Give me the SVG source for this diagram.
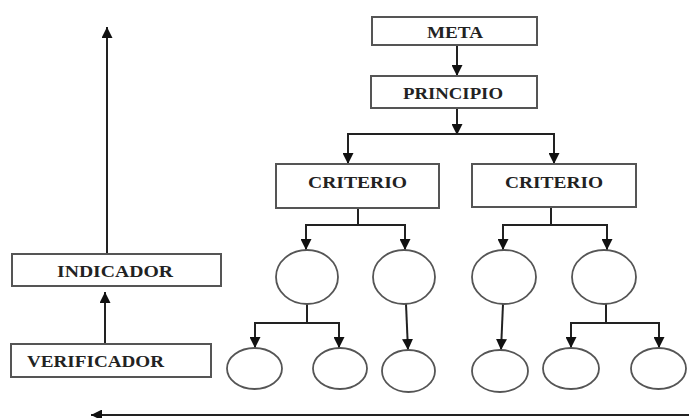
<svg xmlns="http://www.w3.org/2000/svg" width="689" height="418" viewBox="0 0 689 418">
<defs>
<marker id="ah" markerUnits="userSpaceOnUse" markerWidth="11" markerHeight="11" refX="11" refY="5.5" orient="auto">
<path d="M0,0 L11,5.5 L0,11 z" fill="#111"/>
</marker>
<style>
.box{fill:#fff;stroke:#555;stroke-width:2}
.oval{fill:#fff;stroke:#555;stroke-width:1.8}
.t{font-family:"Liberation Serif","Times New Roman",serif;font-weight:bold;font-size:16px;fill:#222}
.c{fill:none;stroke:#222;stroke-width:2}
.a{fill:none;stroke:#222;stroke-width:2;marker-end:url(#ah)}
</style>
</defs>
<rect width="689" height="418" fill="#fff"/>
<g id="connectors">
<line class="a" x1="457" y1="45" x2="457" y2="76"/>
<line class="a" x1="457" y1="108" x2="457" y2="135"/>
<line class="c" x1="348" y1="134" x2="554" y2="134"/>
<line class="a" x1="348" y1="133" x2="348" y2="164"/>
<line class="a" x1="554" y1="133" x2="554" y2="164"/>
<line class="c" x1="358" y1="208" x2="358" y2="225"/>
<line class="c" x1="306" y1="225" x2="405" y2="225"/>
<line class="a" x1="306" y1="224" x2="306" y2="250"/>
<line class="a" x1="405" y1="224" x2="405" y2="250"/>
<line class="c" x1="551" y1="207" x2="551" y2="225"/>
<line class="c" x1="503" y1="225" x2="607" y2="225"/>
<line class="a" x1="503" y1="224" x2="503" y2="250"/>
<line class="a" x1="607" y1="224" x2="607" y2="250"/>
<line class="c" x1="307" y1="304" x2="307" y2="323"/>
<line class="c" x1="255" y1="323" x2="339" y2="323"/>
<line class="a" x1="255" y1="322" x2="255" y2="348"/>
<line class="a" x1="339" y1="322" x2="339" y2="348"/>
<line class="a" x1="406" y1="304" x2="408" y2="350"/>
<line class="a" x1="503" y1="304" x2="501" y2="350"/>
<line class="c" x1="606" y1="304" x2="606" y2="323"/>
<line class="c" x1="571" y1="323" x2="659" y2="323"/>
<line class="a" x1="571" y1="322" x2="571" y2="348"/>
<line class="a" x1="659" y1="322" x2="659" y2="348"/>
<line class="a" x1="105" y1="344" x2="105" y2="292"/>
<line class="a" x1="107" y1="254" x2="107" y2="27"/>
<line class="a" x1="689" y1="415" x2="91" y2="415"/>
</g>
<g id="meta"><rect class="box" x="372" y="17" width="165" height="28"/><text class="t" x="427" y="38" textLength="56" lengthAdjust="spacingAndGlyphs">META</text></g>
<g id="principio"><rect class="box" x="371" y="76" width="166" height="32"/><text class="t" x="403" y="99" textLength="100" lengthAdjust="spacingAndGlyphs">PRINCIPIO</text></g>
<g id="criterio1"><rect class="box" x="276" y="164" width="163" height="44"/><text class="t" x="308" y="188" textLength="99" lengthAdjust="spacingAndGlyphs">CRITERIO</text></g>
<g id="criterio2"><rect class="box" x="472" y="164" width="164" height="43"/><text class="t" x="505" y="188" textLength="98" lengthAdjust="spacingAndGlyphs">CRITERIO</text></g>
<g id="indicador"><rect class="box" x="12" y="254" width="209" height="32"/><text class="t" x="57" y="277" textLength="116" lengthAdjust="spacingAndGlyphs">INDICADOR</text></g>
<g id="verificador"><rect class="box" x="11" y="344" width="200" height="33"/><text class="t" x="27" y="367" textLength="137" lengthAdjust="spacingAndGlyphs">VERIFICADOR</text></g>
<g id="c1"><ellipse class="oval" cx="307" cy="277" rx="31" ry="27"/></g>
<g id="c2"><ellipse class="oval" cx="404" cy="277" rx="31" ry="27"/></g>
<g id="c3"><ellipse class="oval" cx="504" cy="277" rx="32" ry="27"/></g>
<g id="c4"><ellipse class="oval" cx="604" cy="277" rx="32" ry="27"/></g>
<g id="e1"><ellipse class="oval" cx="254.5" cy="368.5" rx="27.5" ry="20.5"/></g>
<g id="e2"><ellipse class="oval" cx="340" cy="368.5" rx="27" ry="20.5"/></g>
<g id="e3"><ellipse class="oval" cx="408.5" cy="371" rx="26.5" ry="21"/></g>
<g id="e4"><ellipse class="oval" cx="500" cy="371" rx="28" ry="21"/></g>
<g id="e5"><ellipse class="oval" cx="571" cy="368.5" rx="28" ry="20.5"/></g>
<g id="e6"><ellipse class="oval" cx="658.5" cy="368.5" rx="27.5" ry="20.5"/></g>
</svg>
